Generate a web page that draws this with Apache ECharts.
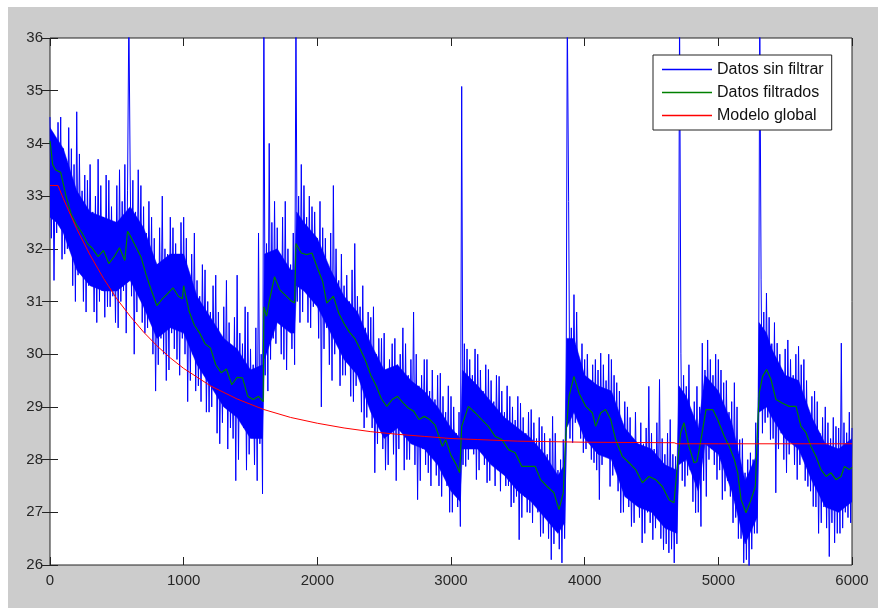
<!DOCTYPE html>
<html><head><meta charset="utf-8">
<script src="https://cdn.jsdelivr.net/npm/echarts@6/dist/echarts.min.js"></script>
<style>html,body{margin:0;padding:0;background:#fff;width:878px;height:608px;overflow:hidden}
#c{position:absolute;left:8px;top:7px;width:870px;height:601px;}</style>
</head><body><div id="c"></div>
<script>
// Raw data swings, four samples per 40 units:
// rawHigh at x, rawLowA at x+10, rawHighB at x+20, rawLow at x+30
const RAW_STEP = 40;
const rawHigh = [
34.5,33.9,34.5,33.7,33.9,34.6,33.1,33.3,32.7,33.7,
32.6,33.3,32.5,33.5,33.6,33.4,32.7,33.2,32.3,32.6,
31.7,33.0,31.9,32.4,31.8,32.6,31.5,32.3,31.1,31.6,
30.8,31.5,30.3,31.4,30.1,31.5,30.2,30.8,29.8,32.3,
36.5,34.0,32.9,31.9,32.9,31.7,36.5,33.6,32.6,32.8,
32.2,32.4,31.6,33.2,31.4,31.3,31.0,32.1,30.9,30.5,
30.7,30.0,30.3,29.6,30.2,29.8,30.5,29.6,30.8,29.4,
29.9,29.3,29.14,29.64,28.9,29.2,28.5,35.08,30.1,29.6,
30.0,29.3,29.71,29.1,29.58,28.9,29.2,28.75,29.07,28.5,
28.95,28.4,28.63,28.1,28.82,27.8,28.38,32.9,31.13,29.77,
29.9,29.46,29.9,30.02,29.5,29.9,29.46,28.6,29.0,28.4,
28.19,28.3,29.39,28.2,29.52,28.1,28.76,28.06,30.02,29.39,
28.76,29.39,30.21,30.27,29.6,29.9,29.46,28.9,29.46,28.38,
27.75,28.13,28.7,31.41,31.16,30.2,30.21,29.7,30.27,29.6,
30.15,29.9,28.89,29.3,28.5,29.0,28.4,28.63,30.21,28.51,
28.6];
const rawLowA = [
32.2,32.3,31.8,32.0,31.3,31.5,31.0,31.3,30.8,31.0,
30.7,30.9,30.6,31.0,30.4,31.1,30.8,30.6,30.5,30.0,
29.8,30.0,29.7,30.1,29.6,30.0,29.5,29.3,29.1,28.9,
29.0,28.5,28.7,28.2,28.4,28.0,28.6,28.1,27.9,28.3,
29.6,29.9,30.2,30.0,29.7,30.1,31.0,30.8,30.6,30.9,
30.3,30.1,29.8,30.0,29.4,29.6,29.2,29.4,28.9,28.8,
28.6,28.3,28.2,27.9,28.1,28.2,27.8,28.0,27.9,27.6,
27.9,27.5,27.7,27.3,27.5,27.0,27.1,27.9,28.0,28.1,
27.8,27.9,27.6,27.5,27.4,27.5,27.1,27.3,26.9,27.0,
26.8,27.0,26.6,26.5,26.4,26.3,26.5,28.4,28.7,28.4,
28.2,28.0,27.8,27.9,28.1,27.7,27.4,27.0,27.1,26.8,
26.9,26.6,26.8,26.7,26.5,26.4,26.3,26.4,27.6,27.7,
27.2,27.0,27.6,28.0,27.9,27.8,27.4,27.3,26.9,26.5,
26.1,26.3,26.6,28.5,28.8,28.4,28.2,28.0,28.1,27.9,
27.9,27.6,27.4,27.1,26.8,26.7,26.8,26.6,26.7,26.9];
const rawHighB = [
34.2,34.4,33.9,34.3,33.6,33.8,33.4,33.6,33.0,33.2,
33.4,32.8,33.2,32.9,33.1,33.3,33.5,32.8,32.9,32.2,
32.4,32.0,32.6,32.1,32.5,32.2,31.9,31.4,31.7,31.0,
31.3,30.8,30.9,30.6,30.7,30.4,30.9,30.1,30.5,30.0,
32.1,32.5,32.4,32.6,32.0,32.3,33.0,33.2,33.0,32.7,
32.9,32.2,32.3,32.0,31.9,31.5,31.6,31.1,31.3,30.8,
30.9,30.3,30.4,29.9,30.3,30.0,30.2,29.9,30.0,29.6,
29.9,29.7,29.6,29.2,29.4,29.0,28.9,30.2,29.9,30.1,
29.7,29.8,29.5,29.6,29.3,29.4,29.0,29.2,28.8,28.9,
28.7,28.8,28.5,28.4,28.5,28.0,28.2,30.5,30.8,30.2,
30.0,29.8,29.7,29.8,30.0,29.6,29.3,29.1,28.8,28.9,
28.7,28.6,28.5,28.7,28.4,28.5,28.1,28.2,29.6,29.8,
29.1,29.0,29.7,29.9,30.0,29.7,29.5,29.1,29.0,28.4,
28.0,28.0,28.4,30.8,30.7,30.6,30.0,30.1,29.9,30.0,
29.8,29.5,29.2,29.1,28.8,28.7,28.8,28.6,28.7,28.9];
const rawLow = [
31.4,32.7,31.9,32.2,31.0,31.7,30.8,31.4,30.6,31.2,
30.9,31.1,30.5,31.2,36.5,30.0,31.3,30.4,30.8,29.3,
30.3,29.5,30.4,29.9,30.3,29.1,30.0,29.4,29.8,28.9,
29.4,28.3,29.0,28.6,27.6,28.8,27.8,28.5,27.6,27.35,
29.3,30.3,30.7,29.9,30.5,29.8,30.6,31.2,30.5,31.1,
29.0,30.5,29.5,30.4,29.6,29.9,29.1,29.6,28.6,29.2,
27.75,28.8,27.8,28.5,27.6,28.6,28.0,28.4,27.24,28.2,
27.75,28.1,27.5,27.8,27.0,27.5,26.73,27.87,28.4,27.62,
28.3,27.56,28.1,27.8,27.9,27.5,27.18,26.48,27.3,26.99,
27.3,26.54,27.0,26.1,26.7,26.04,36.5,28.32,28.9,28.13,
28.5,27.94,27.24,28.2,27.49,28.1,26.99,27.4,26.73,27.2,
26.42,27.0,26.48,27.0,26.29,26.23,26.04,36.5,27.49,27.8,
26.99,26.73,27.3,28.2,27.62,27.24,27.6,26.8,26.5,26.04,
25.9,26.6,36.5,28.7,28.38,27.37,28.5,27.75,28.4,27.62,
28.3,27.49,27.11,26.6,27.1,26.16,26.42,26.6,27.0,26.8];

// Dense core of the raw data (where the raw trace is solid blue)
const coreX = [0,50,100,200,300,400,500,600,700,800,900,1000,1100,1200,1300,1400,1500,1590,1605,1700,1800,1830,1845,1900,2000,2100,2200,2300,2400,2500,2600,2700,2800,2900,3000,3070,3085,3200,3300,3400,3500,3600,3700,3800,3850,3865,3920,4000,4100,4200,4300,4400,4500,4600,4690,4705,4760,4850,4900,5000,5100,5200,5290,5305,5360,5400,5500,5600,5700,5800,5900,6000];
const coreTop = [34.3,34.1,33.9,33.1,32.7,32.6,32.5,32.8,32.4,31.7,31.9,31.9,31.1,30.7,30.3,30.1,29.7,29.8,31.9,32.0,31.6,31.6,32.7,32.5,32.2,31.6,31.1,30.8,30.2,29.7,29.8,29.5,29.3,29.0,28.6,28.4,29.7,29.4,29.1,28.8,28.6,28.4,28.1,27.7,27.9,30.3,30.3,29.6,29.4,29.3,28.6,28.3,28.2,27.9,27.8,29.4,29.2,28.6,29.6,29.3,28.7,27.6,28.1,30.6,30.4,30.1,29.6,29.5,28.8,28.3,28.2,28.4];
const coreBottom = [32.6,32.5,32.3,31.6,31.3,31.2,31.2,31.4,30.9,30.3,30.5,30.4,29.8,29.4,29.0,28.8,28.4,28.4,29.9,30.6,30.4,30.4,31.3,31.2,30.9,30.4,29.9,29.6,28.9,28.4,28.6,28.3,28.2,27.9,27.4,27.2,28.2,28.2,27.9,27.7,27.4,27.2,26.9,26.6,26.8,28.6,28.9,28.4,28.1,28.0,27.3,27.1,27.0,26.7,26.6,27.9,28.0,27.4,28.3,28.1,27.4,26.4,26.9,28.9,29.0,28.8,28.4,28.2,27.6,27.1,27.0,27.2];

// Filtered data
const filteredX = [0,20,40,80,120,160,200,240,280,320,360,400,440,480,520,560,580,600,640,680,720,760,800,840,880,920,960,990,1000,1040,1080,1120,1160,1200,1240,1280,1320,1360,1400,1440,1480,1520,1560,1595,1600,1620,1640,1680,1720,1760,1800,1830,1840,1880,1920,1960,2000,2040,2070,2120,2160,2200,2240,2280,2320,2360,2400,2440,2480,2520,2560,2600,2640,2680,2720,2760,2800,2840,2880,2910,2935,2960,3000,3040,3065,3080,3130,3180,3230,3280,3330,3380,3430,3480,3530,3580,3630,3670,3720,3770,3808,3840,3858,3883,3920,3958,4008,4057,4082,4120,4157,4195,4232,4282,4332,4382,4432,4481,4531,4581,4631,4668,4693,4718,4743,4780,4818,4840,4870,4908,4958,4995,5045,5082,5120,5145,5170,5207,5245,5277,5294,5306,5331,5361,5394,5431,5481,5531,5581,5618,5656,5693,5731,5768,5806,5843,5880,5918,5943,5980,6000];
const filteredY = [34.05,33.6,33.5,33.45,33.0,32.65,32.45,32.3,32.1,32.0,31.85,31.97,31.72,31.85,32.02,31.78,32.33,32.25,32.05,31.85,31.5,31.2,30.92,31.05,31.15,31.26,31.1,31.05,31.3,30.82,30.55,30.4,30.2,30.12,29.8,29.65,29.72,29.42,29.56,29.55,29.2,29.14,29.2,29.1,30.9,30.72,31.0,31.47,31.22,31.12,31.02,30.97,32.1,31.92,31.89,31.92,31.64,31.38,30.97,31.1,30.78,30.58,30.42,30.3,30.1,29.88,29.6,29.4,29.15,29.01,29.14,29.2,29.08,28.98,28.92,28.76,28.82,28.76,28.66,28.44,28.25,28.38,28.08,27.9,27.75,28.63,29.01,28.89,28.76,28.63,28.44,28.38,28.19,28.13,27.87,27.87,27.87,27.62,27.49,27.37,27.05,27.37,28.44,29.2,29.58,29.26,29.01,28.89,28.63,28.89,28.95,28.76,28.38,28.06,27.94,27.81,27.56,27.68,27.62,27.49,27.24,27.18,27.87,28.51,28.7,28.25,27.94,27.96,28.38,28.95,28.95,28.76,28.44,28.25,28.0,27.75,27.24,26.99,27.24,27.49,28.63,29.26,29.58,29.71,29.52,29.14,29.07,29.01,29.01,28.63,28.51,28.25,28.06,27.81,27.68,27.75,27.62,27.68,27.87,27.81,27.85];

// Global model
const modelX = [0,60,100,200,300,400,500,600,700,800,900,1000,1200,1400,1600,1800,2000,2200,2400,2600,2800,3000,3200,3500,4000,4670,4690,5000,6000];
const modelY = [33.2,33.2,32.95,32.38,31.88,31.44,31.05,30.72,30.42,30.16,29.93,29.73,29.40,29.15,28.95,28.80,28.69,28.60,28.53,28.48,28.44,28.40,28.38,28.35,28.33,28.32,28.30,28.30,28.30];

const xTicks = {min:0, max:6000, interval:1000};
const yTicks = {min:26, max:36, interval:1};
const seriesNames = ['Datos sin filtrar','Datos filtrados','Modelo global'];

const rawPoints = [];
for (let i = 0; i < rawHigh.length; i++) {
  const x = i*RAW_STEP;
  rawPoints.push([x, rawHigh[i]]);
  if (i < rawLow.length) {
    rawPoints.push([x + RAW_STEP/4, rawLowA[i]]);
    rawPoints.push([x + RAW_STEP/2, rawHighB[i]]);
    rawPoints.push([x + 3*RAW_STEP/4, rawLow[i]]);
  }
}
const filteredPoints = filteredX.map((x,i)=>[x, filteredY[i]]);
const modelPoints = modelX.map((x,i)=>[x, modelY[i]]);

function renderCore(params, api) {
  const pts = [];
  for (let i = 0; i < coreX.length; i++) pts.push(api.coord([coreX[i], coreTop[i]]));
  for (let i = coreX.length - 1; i >= 0; i--) pts.push(api.coord([coreX[i], coreBottom[i]]));
  return {type:'polygon', shape:{points:pts}, style:{fill:'#0000ff', stroke:'#0000ff', lineWidth:0.5}, silent:true};
}

const font = "'Liberation Sans', Arial, sans-serif";
const tickLine = {color:'#222', width:1};
const chart = echarts.init(document.getElementById('c'), null, {renderer:'canvas'});
chart.setOption({
  animation:false,
  backgroundColor:'#cccccc',
  grid:{left:42, top:31, width:802, height:527, show:true, backgroundColor:'#ffffff', borderColor:'#222', borderWidth:1},
  legend:{
    data:seriesNames.map(n=>({name:n, icon:'rect'})),
    orient:'vertical', left:645, top:48,
    itemWidth:50, itemHeight:1.5, itemGap:6,
    padding:[6,8,6,9],
    backgroundColor:'#ffffff', borderColor:'#222', borderWidth:1, borderRadius:0,
    textStyle:{fontSize:16, fontFamily:font, color:'#111', lineHeight:17},
    selectedMode:false
  },
  xAxis:[
    {type:'value', min:xTicks.min, max:xTicks.max, interval:xTicks.interval, position:'bottom',
     axisLine:{show:false}, splitLine:{show:false},
     axisTick:{show:true, inside:true, length:8, lineStyle:tickLine},
     axisLabel:{show:true, margin:8, fontSize:15, fontFamily:font, color:'#262626', formatter:v=>String(v)}},
    {type:'value', min:xTicks.min, max:xTicks.max, interval:xTicks.interval, position:'top',
     axisLine:{show:false}, splitLine:{show:false},
     axisTick:{show:true, inside:true, length:8, lineStyle:tickLine},
     axisLabel:{show:false}}
  ],
  yAxis:[
    {type:'value', min:yTicks.min, max:yTicks.max, interval:yTicks.interval, position:'left',
     axisLine:{show:false}, splitLine:{show:false},
     axisTick:{show:true, inside:true, length:8, lineStyle:tickLine},
     axisLabel:{show:true, margin:7, fontSize:15, fontFamily:font, color:'#262626', formatter:v=>String(v)}},
    {type:'value', min:yTicks.min, max:yTicks.max, interval:yTicks.interval, position:'right',
     axisLine:{show:false}, splitLine:{show:false},
     axisTick:{show:true, inside:true, length:8, lineStyle:tickLine},
     axisLabel:{show:false}}
  ],
  series:[
    {name:'core', type:'custom', renderItem:renderCore, data:[[0, 30]], encode:{x:0, y:1}, clip:true, silent:true, z:1},
    {name:seriesNames[0], type:'line', data:rawPoints, symbol:'none', clip:true,
     lineStyle:{color:'#0000ff', width:1}, itemStyle:{color:'#0000ff'}, z:2},
    {name:seriesNames[1], type:'line', data:filteredPoints, symbol:'none', clip:true,
     lineStyle:{color:'#008000', width:1.2}, itemStyle:{color:'#008000'}, z:3},
    {name:seriesNames[2], type:'line', data:modelPoints, symbol:'none', clip:true,
     lineStyle:{color:'#ff0000', width:1}, itemStyle:{color:'#ff0000'}, z:4}
  ]
});
</script></body></html>
